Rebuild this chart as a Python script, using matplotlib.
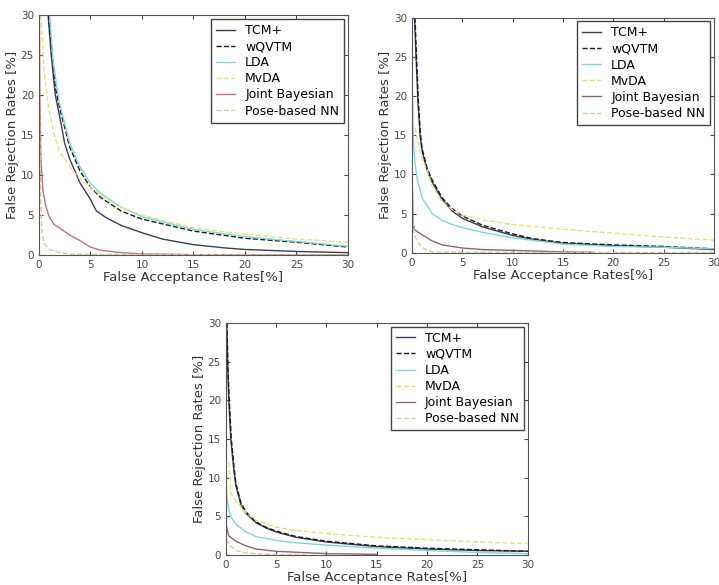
import numpy as np
import matplotlib
matplotlib.use('Agg')
import matplotlib.pyplot as plt

# nombres de las curvas
nombres = ['TCM+', 'wQVTM', 'LDA', 'MvDA', 'Joint Bayesian', 'Pose-based NN']

##### Panel superior izquierdo #####
p1_tcm_x = [0.9, 1.2, 1.6, 2, 2.5, 3, 3.5, 4, 4.5, 5, 5.3, 5.6, 6.5, 8, 10, 12, 15, 18, 20, 25, 30]
p1_tcm_y = [30, 25, 20, 17.5, 14, 12, 10.5, 9, 8, 7, 6.2, 5.5, 4.7, 3.7, 2.8, 2.0, 1.3, 0.9, 0.7, 0.45, 0.3]
p1_wq_x = [0.95, 1.3, 1.6, 2, 3, 4, 5, 6, 8, 10, 15, 20, 25, 30]
p1_wq_y = [30, 25, 21, 18.5, 13.5, 10.5, 8.5, 7.2, 5.5, 4.5, 3.0, 2.1, 1.6, 1.0]
p1_lda_x = [1.05, 1.4, 2, 3, 4, 5, 6, 8, 10, 15, 20, 25, 30]
p1_lda_y = [30, 24, 19, 14, 11, 9, 7.7, 6, 4.8, 3.2, 2.3, 1.7, 1.1]
p1_mv_x = [0.2, 0.5, 1, 1.5, 2, 3, 4, 5, 7, 10, 15, 20, 25, 30]
p1_mv_y = [30, 23, 18, 15, 13, 11, 9.5, 8.5, 6.5, 5.0, 3.4, 2.6, 2.0, 1.6]
p1_jb_x = [0.05, 0.1, 0.2, 0.4, 0.7, 1, 1.5, 2, 3, 4, 5, 6, 8, 10, 15, 30]
p1_jb_y = [30, 20, 12, 8, 6, 4.8, 3.8, 3.4, 2.5, 1.8, 1.0, 0.6, 0.3, 0.15, 0.05, 0.0]
p1_nn_x = [0.05, 0.1, 0.2, 0.3, 0.5, 1, 2, 3, 30]
p1_nn_y = [30, 15, 6, 3, 1.5, 0.7, 0.3, 0.1, 0.0]

##### Panel superior derecho #####
p2_tcm_x = [0.25, 0.4, 0.6, 0.8, 1, 1.5, 2, 3, 4, 5, 7, 10, 12, 15, 20, 25, 30]
p2_tcm_y = [30, 25, 19, 15, 13, 10.5, 9, 6.8, 5.3, 4.4, 3.3, 2.2, 1.7, 1.2, 0.9, 0.7, 0.4]
p2_wq_x = [0.3, 0.45, 0.65, 0.85, 1, 1.5, 2, 3, 4, 5, 7, 10, 12, 15, 20, 25, 30]
p2_wq_y = [30, 25, 19, 15, 13.3, 10.8, 9.3, 7.0, 5.6, 4.7, 3.5, 2.4, 1.8, 1.3, 1.0, 0.8, 0.5]
p2_lda_x = [0.05, 0.1, 0.2, 0.3, 0.5, 0.8, 1, 1.5, 2, 3, 4, 5, 7, 10, 15, 20, 25, 30]
p2_lda_y = [20, 16, 13, 11.5, 9.5, 8, 7, 6, 5, 4.1, 3.6, 3.2, 2.6, 1.9, 1.1, 0.8, 0.7, 0.5]
p2_mv_x = [0.3, 0.6, 1, 1.5, 2, 3, 4, 5, 7, 10, 15, 20, 25, 30]
p2_mv_y = [16, 14, 12, 10.5, 8.5, 6.5, 5.5, 4.8, 4.2, 3.6, 3.0, 2.5, 2.0, 1.6]
p2_jb_x = [0.02, 0.1, 0.2, 0.5, 1, 2, 3, 5, 7, 10, 15, 18]
p2_jb_y = [10, 4, 3, 2.7, 2.3, 1.5, 1.0, 0.6, 0.4, 0.3, 0.1, 0.05]
p2_nn_x = [0.02, 0.2, 0.5, 1, 1.5, 2, 5, 30]
p2_nn_y = [5, 2.5, 1.5, 0.7, 0.3, 0.1, 0.05, 0.0]

##### Panel inferior #####
p3_tcm_x = [0.1, 0.2, 0.3, 0.5, 0.8, 1, 1.5, 2, 3, 4, 5, 7, 10, 15, 20, 25, 30]
p3_tcm_y = [30, 24, 20, 15, 11, 9, 6.5, 5.4, 4.2, 3.5, 3.0, 2.3, 1.7, 1.1, 0.8, 0.6, 0.5]
p3_wq_x = [0.12, 0.22, 0.35, 0.55, 0.85, 1, 1.5, 2, 3, 4, 5, 7, 10, 15, 20, 25, 30]
p3_wq_y = [30, 24, 20, 15, 11, 9.3, 6.8, 5.6, 4.3, 3.6, 3.1, 2.4, 1.8, 1.2, 0.9, 0.7, 0.5]
p3_lda_x = [0.02, 0.1, 0.3, 0.5, 1, 2, 3, 5, 7, 10, 15, 20, 25, 30]
p3_lda_y = [10, 7.5, 6, 5, 4, 3, 2.4, 1.9, 1.6, 1.3, 0.9, 0.6, 0.35, 0.2]
p3_mv_x = [0.3, 0.5, 1, 2, 3, 5, 7, 10, 15, 20, 25, 30]
p3_mv_y = [12, 8, 7, 5.5, 4.5, 3.6, 3.2, 2.8, 2.3, 2.0, 1.7, 1.5]
p3_jb_x = [0.02, 0.3, 1, 2, 3, 5, 10, 15]
p3_jb_y = [4, 2.5, 1.8, 1.2, 0.8, 0.5, 0.2, 0.1]
p3_nn_x = [0.02, 0.5, 1, 2, 4, 8]
p3_nn_y = [2, 1.2, 0.6, 0.3, 0.1, 0.02]

# estilos de cada curva
colores = ['#3c3c58', '#1a1a1a', '#7fd6d6', '#e6df7e', '#b86a7a', '#cfcf98']
estilos = ['-', '--', '-', '--', '-', '--']

paneles = [
    [(p1_tcm_x, p1_tcm_y), (p1_wq_x, p1_wq_y), (p1_lda_x, p1_lda_y),
     (p1_mv_x, p1_mv_y), (p1_jb_x, p1_jb_y), (p1_nn_x, p1_nn_y)],
    [(p2_tcm_x, p2_tcm_y), (p2_wq_x, p2_wq_y), (p2_lda_x, p2_lda_y),
     (p2_mv_x, p2_mv_y), (p2_jb_x, p2_jb_y), (p2_nn_x, p2_nn_y)],
    [(p3_tcm_x, p3_tcm_y), (p3_wq_x, p3_wq_y), (p3_lda_x, p3_lda_y),
     (p3_mv_x, p3_mv_y), (p3_jb_x, p3_jb_y), (p3_nn_x, p3_nn_y)],
]
posiciones = [[0.054, 0.564, 0.430, 0.410],
              [0.573, 0.568, 0.420, 0.402],
              [0.314, 0.051, 0.420, 0.397]]
color_jb = ['#c0707e', '#8a6474', '#8a6474']

fig = plt.figure(figsize=(7.19, 5.85), dpi=100)
for k in range(3):
    ax = fig.add_axes(posiciones[k])
    for i in range(6):
        xs, ys = paneles[k][i]
        c = colores[i]
        if i == 4:
            c = color_jb[k]
        ax.plot(xs, ys, linestyle=estilos[i], color=c, lw=1.0, label=nombres[i])
    ax.set_xlim(0, 30)
    ax.set_ylim(0, 30)
    ax.set_xticks(np.arange(0, 31, 5))
    ax.set_yticks(np.arange(0, 31, 5))
    ax.tick_params(direction='in', top=True, right=True, labelsize=7.5,
                   colors='#444444', length=3)
    for s in ax.spines.values():
        s.set_color('#555555')
    ax.set_xlabel('False Acceptance Rates[%]', fontsize=9.5, color='#333333', labelpad=1)
    ax.set_ylabel('False Rejection Rates [%]', fontsize=9.5, color='#333333', labelpad=1)
    leg = ax.legend(loc='upper right', fontsize=9, fancybox=False, framealpha=1,
                    handlelength=1.5, borderaxespad=0.3, labelspacing=0.25)
    leg.get_frame().set_edgecolor('#444444')

plt.savefig('out.png', dpi=100)
plt.close()
